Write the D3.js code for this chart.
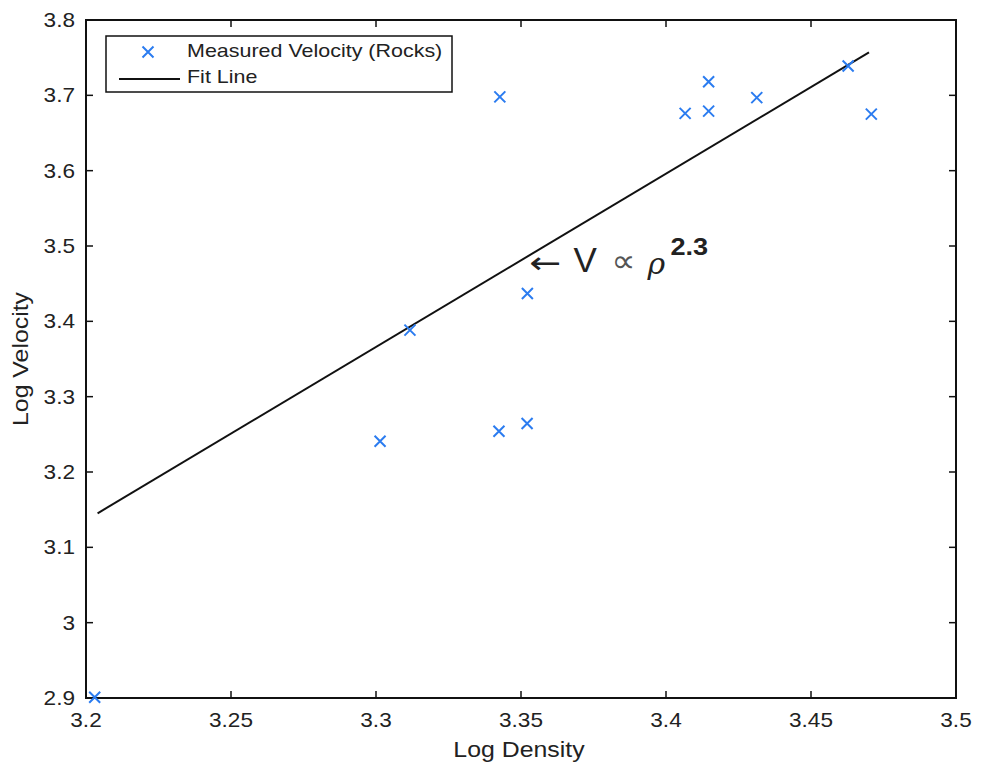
<!DOCTYPE html>
<html>
<head>
<meta charset="utf-8">
<script src="https://cdn.jsdelivr.net/npm/d3@7"></script>
<style>
  html, body { margin: 0; padding: 0; background: #fff; }
  svg { display: block; }
  text { font-family: "Liberation Sans", Arial, sans-serif; fill: #222; }
</style>
</head>
<body>
<svg id="chart" width="981" height="771"></svg>
<script>
// Measured rock samples: log10 density vs log10 velocity
const logDensity  = [3.203, 3.3014, 3.3117, 3.3424, 3.3521, 3.3522, 3.3427, 3.4066, 3.4147, 3.4147, 3.4313, 3.4628, 3.4708];
const logVelocity = [2.901, 3.2409, 3.3883, 3.2542, 3.2644, 3.437, 3.698, 3.676, 3.718, 3.679, 3.697, 3.739, 3.675];

// Power-law fit: log V = slope * log rho + intercept, drawn over fitRange
const fitSlope = 2.3;
const fitIntercept = -4.224;
const fitRange = [3.204, 3.470];

const xTicks = [3.2, 3.25, 3.3, 3.35, 3.4, 3.45, 3.5];
const yTicks = [2.9, 3, 3.1, 3.2, 3.3, 3.4, 3.5, 3.6, 3.7, 3.8];

const xLabel = "Log Density";
const yLabel = "Log Velocity";
const legendLabels = ["Measured Velocity (Rocks)", "Fit Line"];
const annotation = { x: 3.3529, y: 3.477, exponent: "2.3" };

const markerColor = "#2b7cf0";
const stretch = 1.13; // horizontal text stretch

const svg = d3.select("#chart");
const plotL = 86, plotR = 956, plotT = 20, plotB = 698;

const x = d3.scaleLinear().domain([3.2, 3.5]).range([plotL, plotR]);
const y = d3.scaleLinear().domain([2.9, 3.8]).range([plotB, plotT]);

const tickFmt = d => String(+d.toFixed(2));

// Frame with inward ticks on all four sides
const frame = svg.append("g");
frame.append("rect")
  .attr("x", plotL).attr("y", plotT)
  .attr("width", plotR - plotL).attr("height", plotB - plotT)
  .attr("fill", "none").attr("stroke", "#111").attr("stroke-width", 2);

const tickLen = 7;
const tickG = frame.append("g").attr("stroke", "#111").attr("stroke-width", 1.5);
xTicks.forEach(d => {
  tickG.append("line").attr("x1", x(d)).attr("x2", x(d)).attr("y1", plotB).attr("y2", plotB - tickLen);
  tickG.append("line").attr("x1", x(d)).attr("x2", x(d)).attr("y1", plotT).attr("y2", plotT + tickLen);
});
yTicks.forEach(d => {
  tickG.append("line").attr("x1", plotL).attr("x2", plotL + tickLen).attr("y1", y(d)).attr("y2", y(d));
  tickG.append("line").attr("x1", plotR).attr("x2", plotR - tickLen).attr("y1", y(d)).attr("y2", y(d));
});

// Tick labels
const labelG = svg.append("g").style("font-size", "20px");
xTicks.forEach(d => {
  labelG.append("text")
    .attr("transform", `translate(${x(d)},727) scale(${stretch},1)`)
    .attr("text-anchor", "middle")
    .text(tickFmt(d));
});
yTicks.forEach(d => {
  labelG.append("text")
    .attr("transform", `translate(75,${y(d) + 7}) scale(${stretch},1)`)
    .attr("text-anchor", "end")
    .text(tickFmt(d));
});

// Axis titles
svg.append("text")
  .attr("transform", `translate(${(plotL + plotR) / 2 - 2},757) scale(${stretch},1)`)
  .attr("text-anchor", "middle")
  .style("font-size", "22px")
  .text(xLabel);
svg.append("text")
  .attr("transform", `translate(28,${(plotT + plotB) / 2}) rotate(-90) scale(${stretch},1)`)
  .attr("text-anchor", "middle")
  .style("font-size", "22px")
  .text(yLabel);

// Fit line
const fitPts = fitRange.map(v => [v, fitSlope * v + fitIntercept]);
svg.append("path")
  .attr("d", d3.line().x(d => x(d[0])).y(d => y(d[1]))(fitPts))
  .attr("fill", "none").attr("stroke", "#111").attr("stroke-width", 2);

// Cross markers
const m = 5.5;
function cross(g, cx, cy) {
  g.append("path")
    .attr("d", `M${cx - m},${cy - m}L${cx + m},${cy + m}M${cx - m},${cy + m}L${cx + m},${cy - m}`)
    .attr("stroke", markerColor).attr("stroke-width", 2).attr("fill", "none");
}
const pts = svg.append("g");
logDensity.forEach((d, i) => cross(pts, x(d), y(logVelocity[i])));

// Annotation: ← V ∝ ρ^2.3, anchored at the arrow tip
const ax = x(annotation.x), ay = y(annotation.y);
const ann = svg.append("g").attr("transform", `translate(${ax},${ay})`);
ann.append("text").attr("x", 0).attr("y", 10)
  .style("font-family", "DejaVu Sans").style("font-size", "30px")
  .attr("textLength", 32).attr("lengthAdjust", "spacingAndGlyphs")
  .text("\u2190");
ann.append("text").attr("x", 44).attr("y", 9)
  .style("font-size", "35px").text("V");
ann.append("text").attr("x", 82).attr("y", 9)
  .style("font-family", "DejaVu Sans").style("font-size", "32px").style("fill", "#555")
  .attr("textLength", 24).attr("lengthAdjust", "spacingAndGlyphs")
  .text("\u221D");
ann.append("text").attr("x", 118).attr("y", 11)
  .style("font-family", "DejaVu Serif").style("font-style", "italic").style("font-size", "30px")
  .text("\u03C1");
ann.append("text").attr("transform", `translate(141,-8) scale(${stretch},1)`)
  .style("font-size", "24px").style("font-weight", "bold")
  .text(annotation.exponent);

// Legend
const lg = svg.append("g");
lg.append("rect").attr("x", 106).attr("y", 36).attr("width", 346).attr("height", 56)
  .attr("fill", "#fff").attr("stroke", "#111").attr("stroke-width", 1.5);
cross(lg, 148, 52);
lg.append("line").attr("x1", 119).attr("x2", 180).attr("y1", 79).attr("y2", 79)
  .attr("stroke", "#111").attr("stroke-width", 2);
legendLabels.forEach((t, i) => {
  lg.append("text")
    .attr("transform", `translate(187,${57 + i * 26}) scale(${stretch},1)`)
    .style("font-size", "19px")
    .text(t);
});
</script>
</body>
</html>
